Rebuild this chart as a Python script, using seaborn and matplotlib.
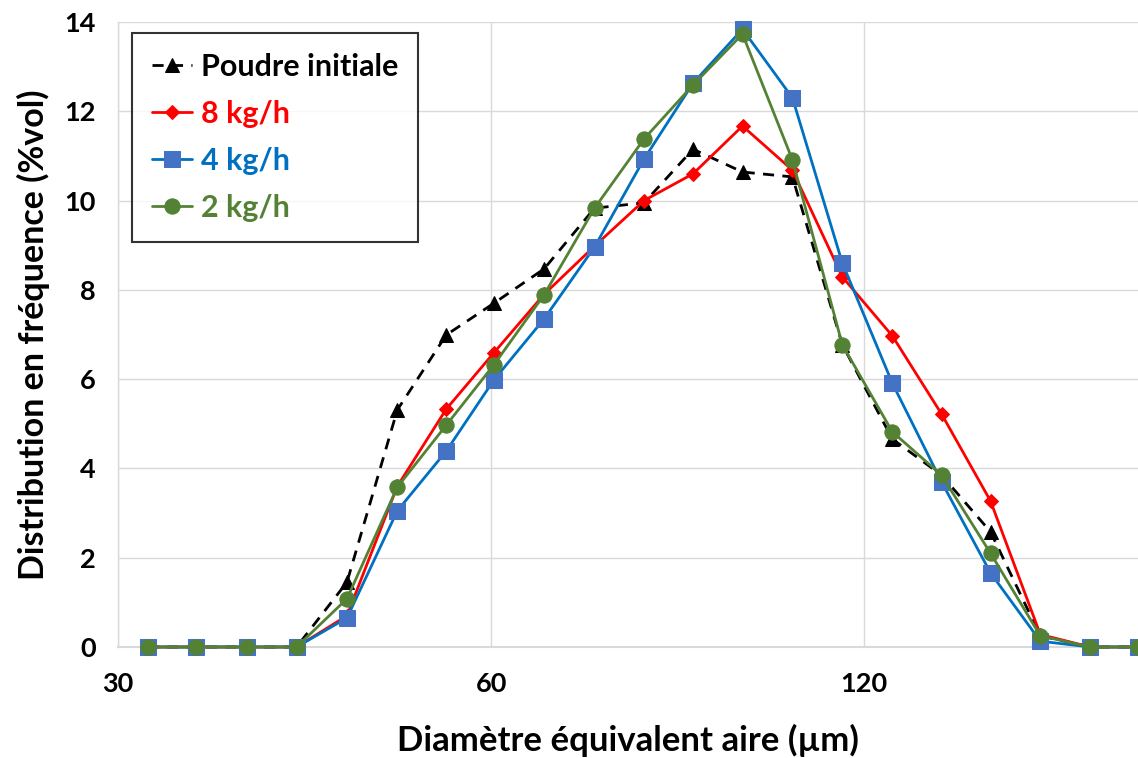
import numpy as np
import pandas as pd
import matplotlib
matplotlib.use("Agg")
import matplotlib.pyplot as plt
import seaborn as sns

# ---- data ----
diam = [31.7, 34.7, 38.1, 41.8, 45.9, 50.4, 55.2, 60.3, 66.2, 72.7, 79.7,
        87.3, 95.7, 105.0, 115.2, 126.4, 138.5, 151.7, 166.4, 182.6, 199.5]
poudre = [0, 0, 0, 0, 1.45, 5.31, 6.99, 7.70, 8.47, 9.83, 9.95,
          11.15, 10.64, 10.53, 6.77, 4.66, 3.85, 2.58, 0.25, 0, 0]
kg8 = [0, 0, 0, 0, 0.70, 3.60, 5.33, 6.59, 7.90, 8.98, 10.0,
       10.60, 11.67, 10.68, 8.29, 6.97, 5.22, 3.27, 0.28, 0, 0]
kg4 = [0, 0, 0, 0, 0.65, 3.05, 4.39, 5.98, 7.35, 8.96, 10.93,
       12.63, 13.84, 12.30, 8.60, 5.91, 3.70, 1.66, 0.13, 0, 0]
kg2 = [0, 0, 0, 0, 1.08, 3.58, 4.97, 6.32, 7.89, 9.83, 11.38,
       12.59, 13.73, 10.91, 6.77, 4.82, 3.85, 2.10, 0.25, 0, 0]
labels = ["Poudre initiale", "8 kg/h", "4 kg/h", "2 kg/h"]
xticks = [30, 60, 120]
yticks = [0, 2, 4, 6, 8, 10, 12, 14]

sns.set_theme(style="white")
plt.rcParams['font.family'] = ['Lato', 'DejaVu Sans']
for k in ["text.color", "axes.labelcolor", "xtick.color", "ytick.color"]:
    plt.rcParams[k] = "black"

fig = plt.figure(figsize=(11.38, 7.58), dpi=100)
ax = fig.add_axes([118/1138, 1-647/758, 1-118/1138, (647-22)/758])

styles = [
    dict(y=poudre, color="black", marker="^", ms=10, ls=(0, (4, 3)), mfc="black", mec="black", tc="black"),
    dict(y=kg8, color="#FF0000", marker="D", ms=7, ls="-", mfc="#FF0000", mec="#FF0000", tc="#FF0000"),
    dict(y=kg4, color="#0070C0", marker="s", ms=11, ls="-", mfc="#4472C4", mec="#4472C4", tc="#0070C0"),
    dict(y=kg2, color="#548235", marker="o", ms=11, ls="-", mfc="#548235", mec="#548235", tc="#548235"),
]
for lab, st in zip(labels, styles):
    sns.lineplot(x=diam, y=st["y"], ax=ax, color=st["color"], marker=st["marker"],
                 markersize=st["ms"], linestyle=st["ls"], linewidth=2,
                 markerfacecolor=st["mfc"], markeredgecolor=st["mec"],
                 label=lab, clip_on=False, zorder=3)

ax.set_xscale("log")
ax.set_xlim(30, 199.5)
ax.set_ylim(0, 14)
ax.set_xticks(xticks)
ax.set_xticklabels([str(t) for t in xticks])
ax.xaxis.set_minor_locator(matplotlib.ticker.NullLocator())
ax.set_yticks(yticks)
ax.grid(True, color="#d9d9d9", linewidth=1)
ax.set_axisbelow(True)
for s in ["top", "right"]:
    ax.spines[s].set_visible(False)
ax.spines["left"].set_color("#d9d9d9")
ax.spines["bottom"].set_color("#d9d9d9")
ax.spines["left"].set_linewidth(1)
ax.spines["bottom"].set_linewidth(1.5)
ax.tick_params(axis="both", length=0, labelsize=19.5)
ax.tick_params(axis="y", pad=16)
ax.tick_params(axis="x", pad=18)
for t in ax.get_xticklabels() + ax.get_yticklabels():
    t.set_fontweight("bold")

ax.set_xlabel("Diamètre équivalent aire (µm)", fontsize=25, fontweight="bold", labelpad=20)
ax.set_ylabel("Distribution en fréquence (%vol)", fontsize=24.5, fontweight="bold", labelpad=10)

leg = ax.legend(loc="upper left", bbox_to_anchor=(14/1020, 1-11/625), frameon=True,
                fancybox=False, edgecolor="black", fontsize=22, handlelength=1.3,
                handletextpad=0.3, borderpad=0.65, labelspacing=0.62, borderaxespad=0)
leg.get_frame().set_linewidth(1.5)
for txt, st in zip(leg.get_texts(), styles):
    txt.set_color(st["tc"])
    txt.set_fontweight("bold")

fig.savefig("out.png", dpi=100)
